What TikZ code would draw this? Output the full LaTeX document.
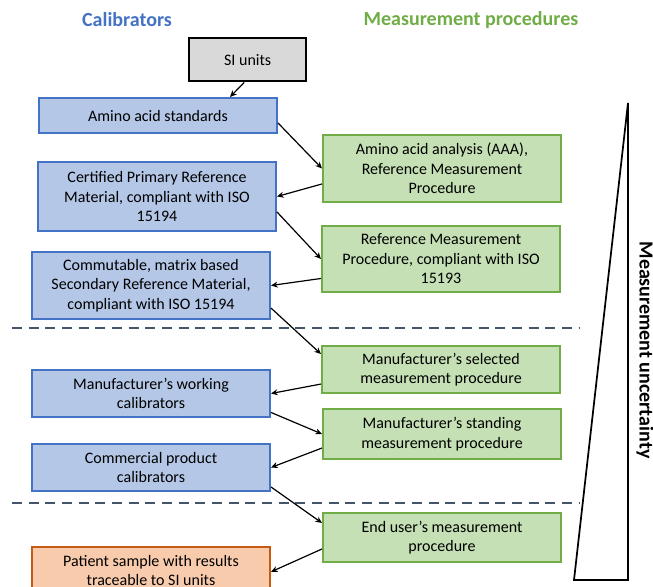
\documentclass[tikz,border=0pt]{standalone}
\usepackage{fontspec}
\setmainfont{Carlito}
\usetikzlibrary{arrows.meta}
\definecolor{calblue}{HTML}{4472C4}
\definecolor{calfill}{HTML}{B4C7E7}
\definecolor{procgreen}{HTML}{70AD47}
\definecolor{procfill}{HTML}{C5E0B4}
\definecolor{patred}{HTML}{C55A11}
\definecolor{patfill}{HTML}{F8CBAD}
\definecolor{sifill}{HTML}{D9D9D9}
\definecolor{sepgray}{HTML}{44546A}
\tikzset{
  basebox/.style={
    anchor=north west,
    line width=1.5pt,
    align=center,
    inner sep=2pt,
    font=\fontsize{12}{14.6}\selectfont
  },
  calbox/.style={basebox, draw=calblue, fill=calfill, minimum width=178.5pt},
  procbox/.style={basebox, draw=procgreen, fill=procfill, minimum width=178.5pt},
  patbox/.style={basebox, draw=patred, fill=patfill, minimum width=178.5pt},
  sibox/.style={basebox, line width=1.8pt, draw=black, fill=sifill, minimum width=87.75pt},
  trace/.style={-{Stealth[length=5pt,width=4.5pt]}, line width=0.9pt},
  sepline/.style={line width=2.2pt, sepgray, dash pattern=on 7.5pt off 5pt},
  header/.style={font=\fontsize{15}{18}\selectfont\bfseries}
}

\begin{document}
\begin{tikzpicture}[x=0.75pt,y=-0.75pt]

  \path[use as bounding box] (0,0) rectangle (653,586);
  \clip (0,0) rectangle (653,586);

  % headers<<<
  \node[header, text=calblue] (calhead) at (127,20) {Calibrators};
  \node[header, text=procgreen] (prochead) at (471,20) {Measurement procedures};
  % >>>

  % calibrators<<<
  \node[sibox, minimum height=32.25pt] (si) at (188,37) {SI units};
  \node[calbox, minimum height=26.25pt] (amino) at (38,97) {Amino acid standards};
  \node[calbox, minimum height=51.75pt] (primary) at (37,161)
    {Certified Primary Reference\\Material, compliant with ISO\\15194};
  \node[calbox, minimum height=50.25pt] (secondary) at (31,251)
    {Commutable, matrix based\\Secondary Reference Material,\\compliant with ISO 15194};
  \node[calbox, minimum height=35.25pt] (working) at (31,369)
    {Manufacturer’s working\\calibrators};
  \node[calbox, minimum height=35.25pt] (product) at (31,443)
    {Commercial product\\calibrators};
  \node[patbox, minimum height=35.25pt] (patient) at (31,546)
    {Patient sample with results\\traceable to SI units};
  % >>>

  % procedures<<<
  \node[procbox, minimum height=50.25pt] (aaa) at (322,134)
    {Amino acid analysis (AAA),\\Reference Measurement\\Procedure};
  \node[procbox, minimum height=49.5pt] (rmp) at (321,225)
    {Reference Measurement\\Procedure, compliant with ISO\\15193};
  \node[procbox, minimum height=35.25pt] (selected) at (321,345)
    {Manufacturer’s selected\\measurement procedure};
  \node[procbox, minimum height=37.5pt] (standing) at (322,408)
    {Manufacturer’s standing\\measurement procedure};
  \node[procbox, minimum height=36.75pt] (enduser) at (322,512)
    {End user’s measurement\\procedure};
  % >>>

  % separators
  \draw[sepline] (12,328) -- (580,328);
  \draw[sepline] (12,503) -- (580,503);

  % traceability chain<<<
  \draw[trace] ([xshift=-2.6pt]si.south) -- ([xshift=54pt]amino.north);
  \draw[trace] ([yshift=-5.6pt]amino.east) -- (aaa.west);
  \draw[trace] ([yshift=-11.6pt]aaa.west) -- (primary.east);
  \draw[trace] ([yshift=-11.6pt]primary.east) -- (rmp.west);
  \draw[trace] ([yshift=-14.6pt]rmp.west) -- (secondary.east);
  \draw[trace] ([yshift=-16.9pt]secondary.east) -- ([yshift=11.6pt]selected.west);
  \draw[trace] ([yshift=-10.9pt]selected.west) -- (working.east);
  \draw[trace] ([yshift=-14.2pt]working.east) -- (standing.west);
  \draw[trace] ([yshift=-10.5pt]standing.west) -- (product.east);
  \draw[trace] ([yshift=-14.6pt]product.east) -- ([yshift=10.9pt]enduser.west);
  \draw[trace] ([yshift=-8.6pt]enduser.west) -- ([yshift=-1pt]patient.east);
  % >>>

  % uncertainty wedge
  \draw[line width=1.3pt] (574,580) -- (628,580) -- (628,103) -- cycle;
  \node[header, rotate=-90] (uncert) at (645,350) {Measurement uncertainty};

\end{tikzpicture}
\end{document}
